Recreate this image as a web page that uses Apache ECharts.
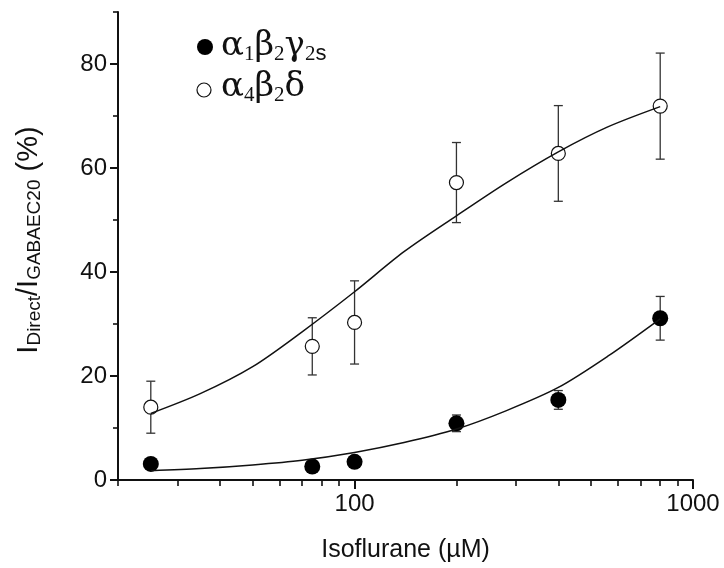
<!DOCTYPE html>
<html><head><meta charset="utf-8">
<script src="https://cdn.jsdelivr.net/npm/echarts@6/dist/echarts.min.js"></script>
<style>html,body{margin:0;padding:0;background:#fff}#c{width:724px;height:568px}</style>
</head><body><div id="c"></div>
<script>
// ---- data ----
const concentrations = [25, 75, 100, 200, 400, 800];
const a1b2g2sMean = [3.1, 2.6, 3.5, 10.9, 15.4, 31.1];
const a1b2g2sErr  = [0, 0, 0, 1.6, 1.8, 4.2];
const a4b2dMean   = [14.0, 25.7, 30.3, 57.2, 62.8, 71.9];
const a4b2dErr    = [5.0, 5.5, 8.0, 7.7, 9.2, 10.2];
const fitX        = [25, 35, 50, 70, 100, 140, 200, 280, 400, 560, 800];
const a1b2g2sFit  = [1.8, 2.2, 2.9, 3.8, 5.3, 7.2, 9.8, 13.3, 17.8, 23.8, 31.0];
const a4b2dFit    = [12.8, 16.6, 21.8, 28.5, 36.2, 43.9, 50.8, 57.1, 63.1, 67.9, 71.8];
const xTickLabels = [100, 1000];
const xMinorTicks = [20, 30, 40, 50, 60, 70, 80, 90, 200, 300, 400, 500, 600, 700, 800, 900];
const yTickLabels = [0, 20, 40, 60, 80];
const yMinorTicks = [10, 30, 50, 70, 90];

const SANS = 'Liberation Sans, Arial, sans-serif';
const SERIF = 'DejaVu Serif, Liberation Serif, serif';
const SERIF2 = 'Liberation Serif, Times New Roman, serif';
const INK = '#111';

function errSeries(name, means, errs) {
  return {
    type: 'custom', name: name + ' err', z: 1, silent: true,
    data: concentrations.map((x, i) => [x, means[i] - errs[i], means[i] + errs[i]]),
    encode: { x: 0, y: [1, 2] },
    renderItem(params, api) {
      const x = api.value(0);
      const p1 = api.coord([x, api.value(1)]);
      const p2 = api.coord([x, api.value(2)]);
      const w = 4.5;
      const st = { stroke: '#333', lineWidth: 1.3 };
      return { type: 'group', children: [
        { type: 'line', shape: { x1: p1[0], y1: p1[1], x2: p2[0], y2: p2[1] }, style: st },
        { type: 'line', shape: { x1: p1[0] - w, y1: p1[1], x2: p1[0] + w, y2: p1[1] }, style: st },
        { type: 'line', shape: { x1: p2[0] - w, y1: p2[1], x2: p2[0] + w, y2: p2[1] }, style: st }
      ]};
    }
  };
}

const chart = echarts.init(document.getElementById('c'), null, { renderer: 'canvas' });
chart.setOption({
  animation: false,
  backgroundColor: '#fff',
  grid: { left: 118, right: 31, top: 12, bottom: 87, containLabel: false },
  xAxis: [{
    type: 'log', logBase: 10, min: 20, max: 1000, position: 'bottom',
    name: 'Isoflurane (µM)', nameLocation: 'middle', nameGap: 58,
    nameTextStyle: { fontFamily: SANS, fontSize: 25, color: INK },
    axisLine: { show: true, onZero: false, lineStyle: { color: INK, width: 2 } },
    axisTick: { show: true, customValues: xTickLabels, length: 9, lineStyle: { color: INK, width: 2 } },
    axisLabel: { customValues: xTickLabels, formatter: v => String(Math.round(v)),
      fontFamily: SANS, fontSize: 24, color: INK, margin: 12 },
    splitLine: { show: false }
  }, {
    type: 'log', logBase: 10, min: 20, max: 1000, position: 'bottom',
    axisLine: { show: false },
    axisTick: { show: true, customValues: xMinorTicks, length: 6, lineStyle: { color: INK, width: 1.6 } },
    axisLabel: { show: false }, splitLine: { show: false }
  }],
  yAxis: [{
    type: 'value', min: 0, max: 90, interval: 10, position: 'left',
    axisLine: { show: true, onZero: false, lineStyle: { color: INK, width: 2 } },
    axisTick: { show: true, customValues: yTickLabels, length: 8, lineStyle: { color: INK, width: 2 } },
    axisLabel: { customValues: yTickLabels, fontFamily: SANS, fontSize: 24, color: INK, margin: 11 },
    splitLine: { show: false }
  }, {
    type: 'value', min: 0, max: 90, interval: 10, position: 'left',
    axisLine: { show: false },
    axisTick: { show: true, customValues: yMinorTicks, length: 5, lineStyle: { color: INK, width: 1.6 } },
    axisLabel: { show: false }, splitLine: { show: false }
  }],
  series: [
    errSeries('α4β2δ', a4b2dMean, a4b2dErr),
    errSeries('α1β2γ2s', a1b2g2sMean, a1b2g2sErr),
    { type: 'scatter', name: 'α1β2γ2s', z: 3, symbol: 'circle', symbolSize: 16,
      itemStyle: { color: '#000', opacity: 1 },
      data: concentrations.map((x, i) => [x, a1b2g2sMean[i]]) },
    { type: 'scatter', name: 'α4β2δ', z: 3, symbol: 'circle', symbolSize: 14,
      itemStyle: { color: '#fff', borderColor: INK, borderWidth: 1.2, opacity: 1 },
      data: concentrations.map((x, i) => [x, a4b2dMean[i]]) },
    { type: 'line', name: 'fit1', z: 4, smooth: 0.3, showSymbol: false, symbol: 'none',
      lineStyle: { color: INK, width: 1.5 },
      data: fitX.map((x, i) => [x, a1b2g2sFit[i]]) },
    { type: 'line', name: 'fit2', z: 4, smooth: 0.3, showSymbol: false, symbol: 'none',
      lineStyle: { color: INK, width: 1.5 },
      data: fitX.map((x, i) => [x, a4b2dFit[i]]) }
  ],
  graphic: [
    { type: 'text', x: 29, y: 240, rotation: Math.PI / 2, z: 10,
      style: {
        text: '{b|I}{s|Direct}{b|/I}{s|GABAEC20}{b| (%)}',
        align: 'center', verticalAlign: 'middle',
        rich: {
          b: { fontFamily: SANS, fontSize: 29, lineHeight: 30, fill: INK },
          s: { fontFamily: SANS, fontSize: 19, lineHeight: 8, verticalAlign: 'bottom', fill: INK }
        }
      } },
    { type: 'circle', shape: { cx: 205, cy: 47, r: 8 }, style: { fill: '#000' }, z: 10 },
    { type: 'circle', shape: { cx: 204, cy: 90, r: 7 }, style: { fill: '#fff', stroke: INK, lineWidth: 1.2 }, z: 10 },
    { type: 'text', x: 221, y: 46, z: 10,
      style: {
        text: '{g|α}{n|1}{g|β}{n|2}{g|γ}{n|2}{ss|s}',
        align: 'left', verticalAlign: 'middle',
        rich: {
          g: { fontFamily: SERIF, fontSize: 34, lineHeight: 38, fill: INK },
          n: { fontFamily: SERIF2, fontSize: 21, lineHeight: 6, verticalAlign: 'bottom', fill: INK },
          ss: { fontFamily: SANS, fontSize: 22, lineHeight: 6, verticalAlign: 'bottom', fill: INK }
        }
      } },
    { type: 'text', x: 221, y: 87, z: 10,
      style: {
        text: '{g|α}{n|4}{g|β}{n|2}{g|δ}',
        align: 'left', verticalAlign: 'middle',
        rich: {
          g: { fontFamily: SERIF, fontSize: 34, lineHeight: 38, fill: INK },
          n: { fontFamily: SERIF2, fontSize: 21, lineHeight: 6, verticalAlign: 'bottom', fill: INK }
        }
      } }
  ]
});
</script>
</body></html>
